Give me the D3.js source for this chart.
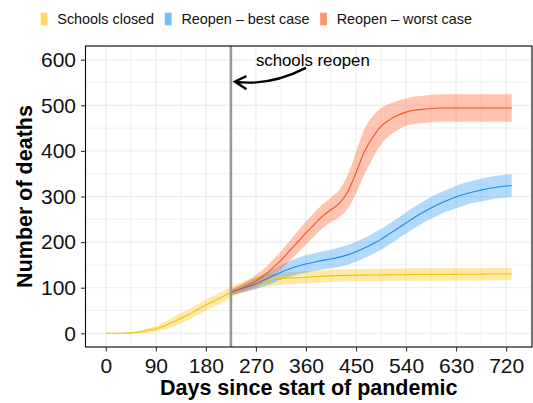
<!DOCTYPE html>
<html>
<head>
<meta charset="utf-8">
<script src="https://cdn.jsdelivr.net/npm/d3@7"></script>
<style>
  body { margin: 0; background: #fff; }
  svg { display: block; font-family: "Liberation Sans", Arial, Helvetica, sans-serif; }
</style>
</head>
<body>
<svg id="chart" width="533" height="403"></svg>
<script>
// Day grid for the whole simulation, and the part after schools reopen
const days = [0, 15, 30, 45, 60, 75, 90, 105, 120, 135, 150, 165, 180, 195, 210, 225,
  240, 255, 270, 285, 300, 315, 330, 345, 360, 375, 390, 405, 420, 435, 450, 465, 480,
  495, 510, 525, 540, 555, 570, 585, 600, 615, 630, 645, 660, 675, 690, 705, 720, 730];
const reopenDays = days.filter(d => d >= 225);
const reopenDay = 225;

// Cumulative deaths: median and half-width of the uncertainty band
const closedMid = [0, 0, 0.3, 1, 3, 6, 10, 16, 24, 33, 42, 52, 62, 71, 80, 90,
  98, 105, 110.5, 114.5, 117.5, 119.5, 121, 122, 123, 124, 125, 126, 126.5, 127, 127.5,
  127.5, 128, 128, 128.5, 128.5, 128.5, 129, 129, 129, 129, 129, 129.5, 129.5, 129.5,
  129.5, 130, 130, 130, 130];
const closedHalf = [0, 0, 0.5, 1.5, 3, 4.5, 6, 8, 10, 11, 11.5, 12, 12, 12, 12, 12,
  12.5, 13, 13, 13, 13.5, 13.5, 13.5, 13.5, 13.5, 13.5, 13.5, 13.5, 13.5, 13.5, 13.5,
  13.5, 13.5, 13.5, 13.5, 13.5, 13.5, 13.5, 13.5, 13.5, 13.5, 13.5, 13.5, 13.5, 13.5,
  13.5, 13.5, 13.5, 13.5, 13.5];

const bestMid = [90, 96, 102, 109, 117, 125, 134, 141, 147, 152, 156, 160, 163, 167,
  172, 179, 187, 196, 206, 218, 230, 242, 254, 265, 275, 284, 292, 299, 305, 310, 314,
  318, 321, 323, 324];
const bestHalf = [6, 8, 10, 12, 13.5, 15, 16, 17, 18, 19, 19.5, 20, 20.5, 21, 21.5, 22,
  22, 22.5, 22.5, 23, 23, 23, 23.5, 23.5, 24, 24, 24, 24.5, 24.5, 24.5, 25, 25, 25, 25, 25];

const worstMid = [90, 97, 105, 115, 127, 143, 160, 180, 200, 220, 239, 257, 271, 285,
  310, 352, 398, 430, 454, 468, 478, 485, 489, 491, 493, 494, 494, 494, 494, 494, 494,
  494, 494, 494, 494];
const worstHalf = [6, 8, 10, 13, 15, 18, 20, 22, 24, 25, 26, 26, 27, 30, 37, 45, 50, 46,
  40, 35, 32, 30, 30, 30, 30, 30, 30, 30, 30, 30, 30, 30, 30, 30, 30];

const xTicks = [0, 90, 180, 270, 360, 450, 540, 630, 720];
const xMinor = [45, 135, 225, 315, 405, 495, 585, 675, 765];
const yTicks = [0, 100, 200, 300, 400, 500, 600];
const yMinor = [50, 150, 250, 350, 450, 550];

const legendLabels = ["Schools closed", "Reopen \u2013 best case", "Reopen \u2013 worst case"];
const lineColors = ["#F5BF00", "#1E88E5", "#F4511E"];
const fillColors = ["#FFC107", "#2196F3", "#FF5722"];

function rows(dayArr, mid, half) {
  return dayArr.map((d, i) => ({ day: d, mid: mid[i], half: half[i] }));
}
const series = [
  rows(days, closedMid, closedHalf),
  rows(reopenDays, bestMid, bestHalf),
  rows(reopenDays, worstMid, worstHalf)
];

const svg = d3.select("#chart");
const panel = { left: 85.5, right: 532, top: 46, bottom: 347 };

const x = d3.scaleLinear().domain([-36.5, 766.5]).range([panel.left, panel.right]);
const y = d3.scaleLinear().domain([-30, 630]).range([panel.bottom, panel.top]);

// Panel background and grid
svg.append("rect").attr("x", panel.left).attr("y", panel.top)
  .attr("width", panel.right - panel.left).attr("height", panel.bottom - panel.top)
  .attr("fill", "#fff");

const grid = svg.append("g").attr("stroke", "#EBEBEB");
grid.selectAll(".xm").data(xMinor.filter(v => v > x.domain()[0] && v < x.domain()[1]))
  .join("line").attr("x1", d => x(d)).attr("x2", d => x(d))
  .attr("y1", panel.top).attr("y2", panel.bottom).attr("stroke-width", 0.7);
grid.selectAll(".ym").data(yMinor)
  .join("line").attr("y1", d => y(d)).attr("y2", d => y(d))
  .attr("x1", panel.left).attr("x2", panel.right).attr("stroke-width", 0.7);
grid.selectAll(".xM").data(xTicks)
  .join("line").attr("x1", d => x(d)).attr("x2", d => x(d))
  .attr("y1", panel.top).attr("y2", panel.bottom).attr("stroke-width", 1.1);
grid.selectAll(".yM").data(yTicks)
  .join("line").attr("y1", d => y(d)).attr("y2", d => y(d))
  .attr("x1", panel.left).attr("x2", panel.right).attr("stroke-width", 1.1);

// Clip for data layers
svg.append("clipPath").attr("id", "clip").append("rect")
  .attr("x", panel.left).attr("y", panel.top)
  .attr("width", panel.right - panel.left).attr("height", panel.bottom - panel.top);
const plot = svg.append("g").attr("clip-path", "url(#clip)");

const area = d3.area()
  .x(d => x(d.day))
  .y0(d => y(d.mid - d.half))
  .y1(d => y(d.mid + d.half))
  .curve(d3.curveMonotoneX);
const line = d3.line()
  .x(d => x(d.day))
  .y(d => y(d.mid))
  .curve(d3.curveMonotoneX);

plot.selectAll(".band").data(series).join("path")
  .attr("d", area)
  .attr("fill", (d, i) => fillColors[i])
  .attr("fill-opacity", 0.35);

plot.selectAll(".med").data(series).join("path")
  .attr("d", line)
  .attr("fill", "none")
  .attr("stroke", (d, i) => lineColors[i])
  .attr("stroke-width", 1.1);

// Reopening date marker
plot.append("line")
  .attr("x1", x(reopenDay)).attr("x2", x(reopenDay))
  .attr("y1", panel.top).attr("y2", panel.bottom)
  .attr("stroke", "#999").attr("stroke-width", 2.6);

// Annotation with curved arrow, placed in data coordinates
const note = { day: 270, value: 586 };
const arrow = { from: [360, 582], ctrl: [294, 541], to: [232, 552] };
const head = { back: 253, up: 564, down: 535 };
svg.append("text")
  .attr("x", x(note.day)).attr("y", y(note.value))
  .attr("font-size", 16.8).attr("fill", "#000")
  .text("schools reopen");
const ap = d3.path();
ap.moveTo(x(arrow.from[0]), y(arrow.from[1]));
ap.quadraticCurveTo(x(arrow.ctrl[0]), y(arrow.ctrl[1]), x(arrow.to[0]), y(arrow.to[1]));
ap.moveTo(x(head.back), y(head.up));
ap.lineTo(x(arrow.to[0]), y(arrow.to[1]));
ap.lineTo(x(head.back), y(head.down));
svg.append("path").attr("d", ap.toString())
  .attr("fill", "none").attr("stroke", "#000").attr("stroke-width", 2.3)
  .attr("stroke-linecap", "butt").attr("stroke-linejoin", "miter");

// Panel border
svg.append("rect").attr("x", panel.left).attr("y", panel.top)
  .attr("width", panel.right - panel.left).attr("height", panel.bottom - panel.top)
  .attr("fill", "none").attr("stroke", "#000").attr("stroke-width", 1.1);

// Axes
const xAxis = svg.append("g").attr("transform", `translate(0,${panel.bottom})`)
  .call(d3.axisBottom(x).tickValues(xTicks).tickSize(4.5).tickPadding(6.5));
const yAxis = svg.append("g").attr("transform", `translate(${panel.left},0)`)
  .call(d3.axisLeft(y).tickValues(yTicks).tickSize(4.5).tickPadding(5));
[xAxis, yAxis].forEach(a => {
  a.select(".domain").remove();
  a.selectAll(".tick line").attr("stroke", "#333").attr("stroke-width", 1.1);
  a.selectAll(".tick text").attr("fill", "#111").attr("font-size", 21)
    .attr("font-family", "Liberation Sans, Arial, sans-serif");
});

svg.append("text")
  .attr("x", (panel.left + panel.right) / 2).attr("y", 395)
  .attr("text-anchor", "middle").attr("font-size", 21.5).attr("font-weight", "bold")
  .text("Days since start of pandemic");
svg.append("text")
  .attr("transform", `translate(31.5,${(panel.top + panel.bottom) / 2}) rotate(-90)`)
  .attr("text-anchor", "middle").attr("font-size", 21.5).attr("font-weight", "bold")
  .text("Number of deaths");

// Legend
const legend = svg.append("g");
let lx = 40.7;
legendLabels.forEach((lab, i) => {
  legend.append("rect").attr("x", lx).attr("y", 12.7).attr("width", 6.8).attr("height", 12.6)
    .attr("fill", fillColors[i]).attr("fill-opacity", 0.62);
  const t = legend.append("text").attr("x", lx + 16.6).attr("y", 24)
    .attr("font-size", 14.4).attr("fill", "#111").text(lab);
  lx += 16.6 + t.node().getComputedTextLength() + 10.7;
});
</script>
</body>
</html>
